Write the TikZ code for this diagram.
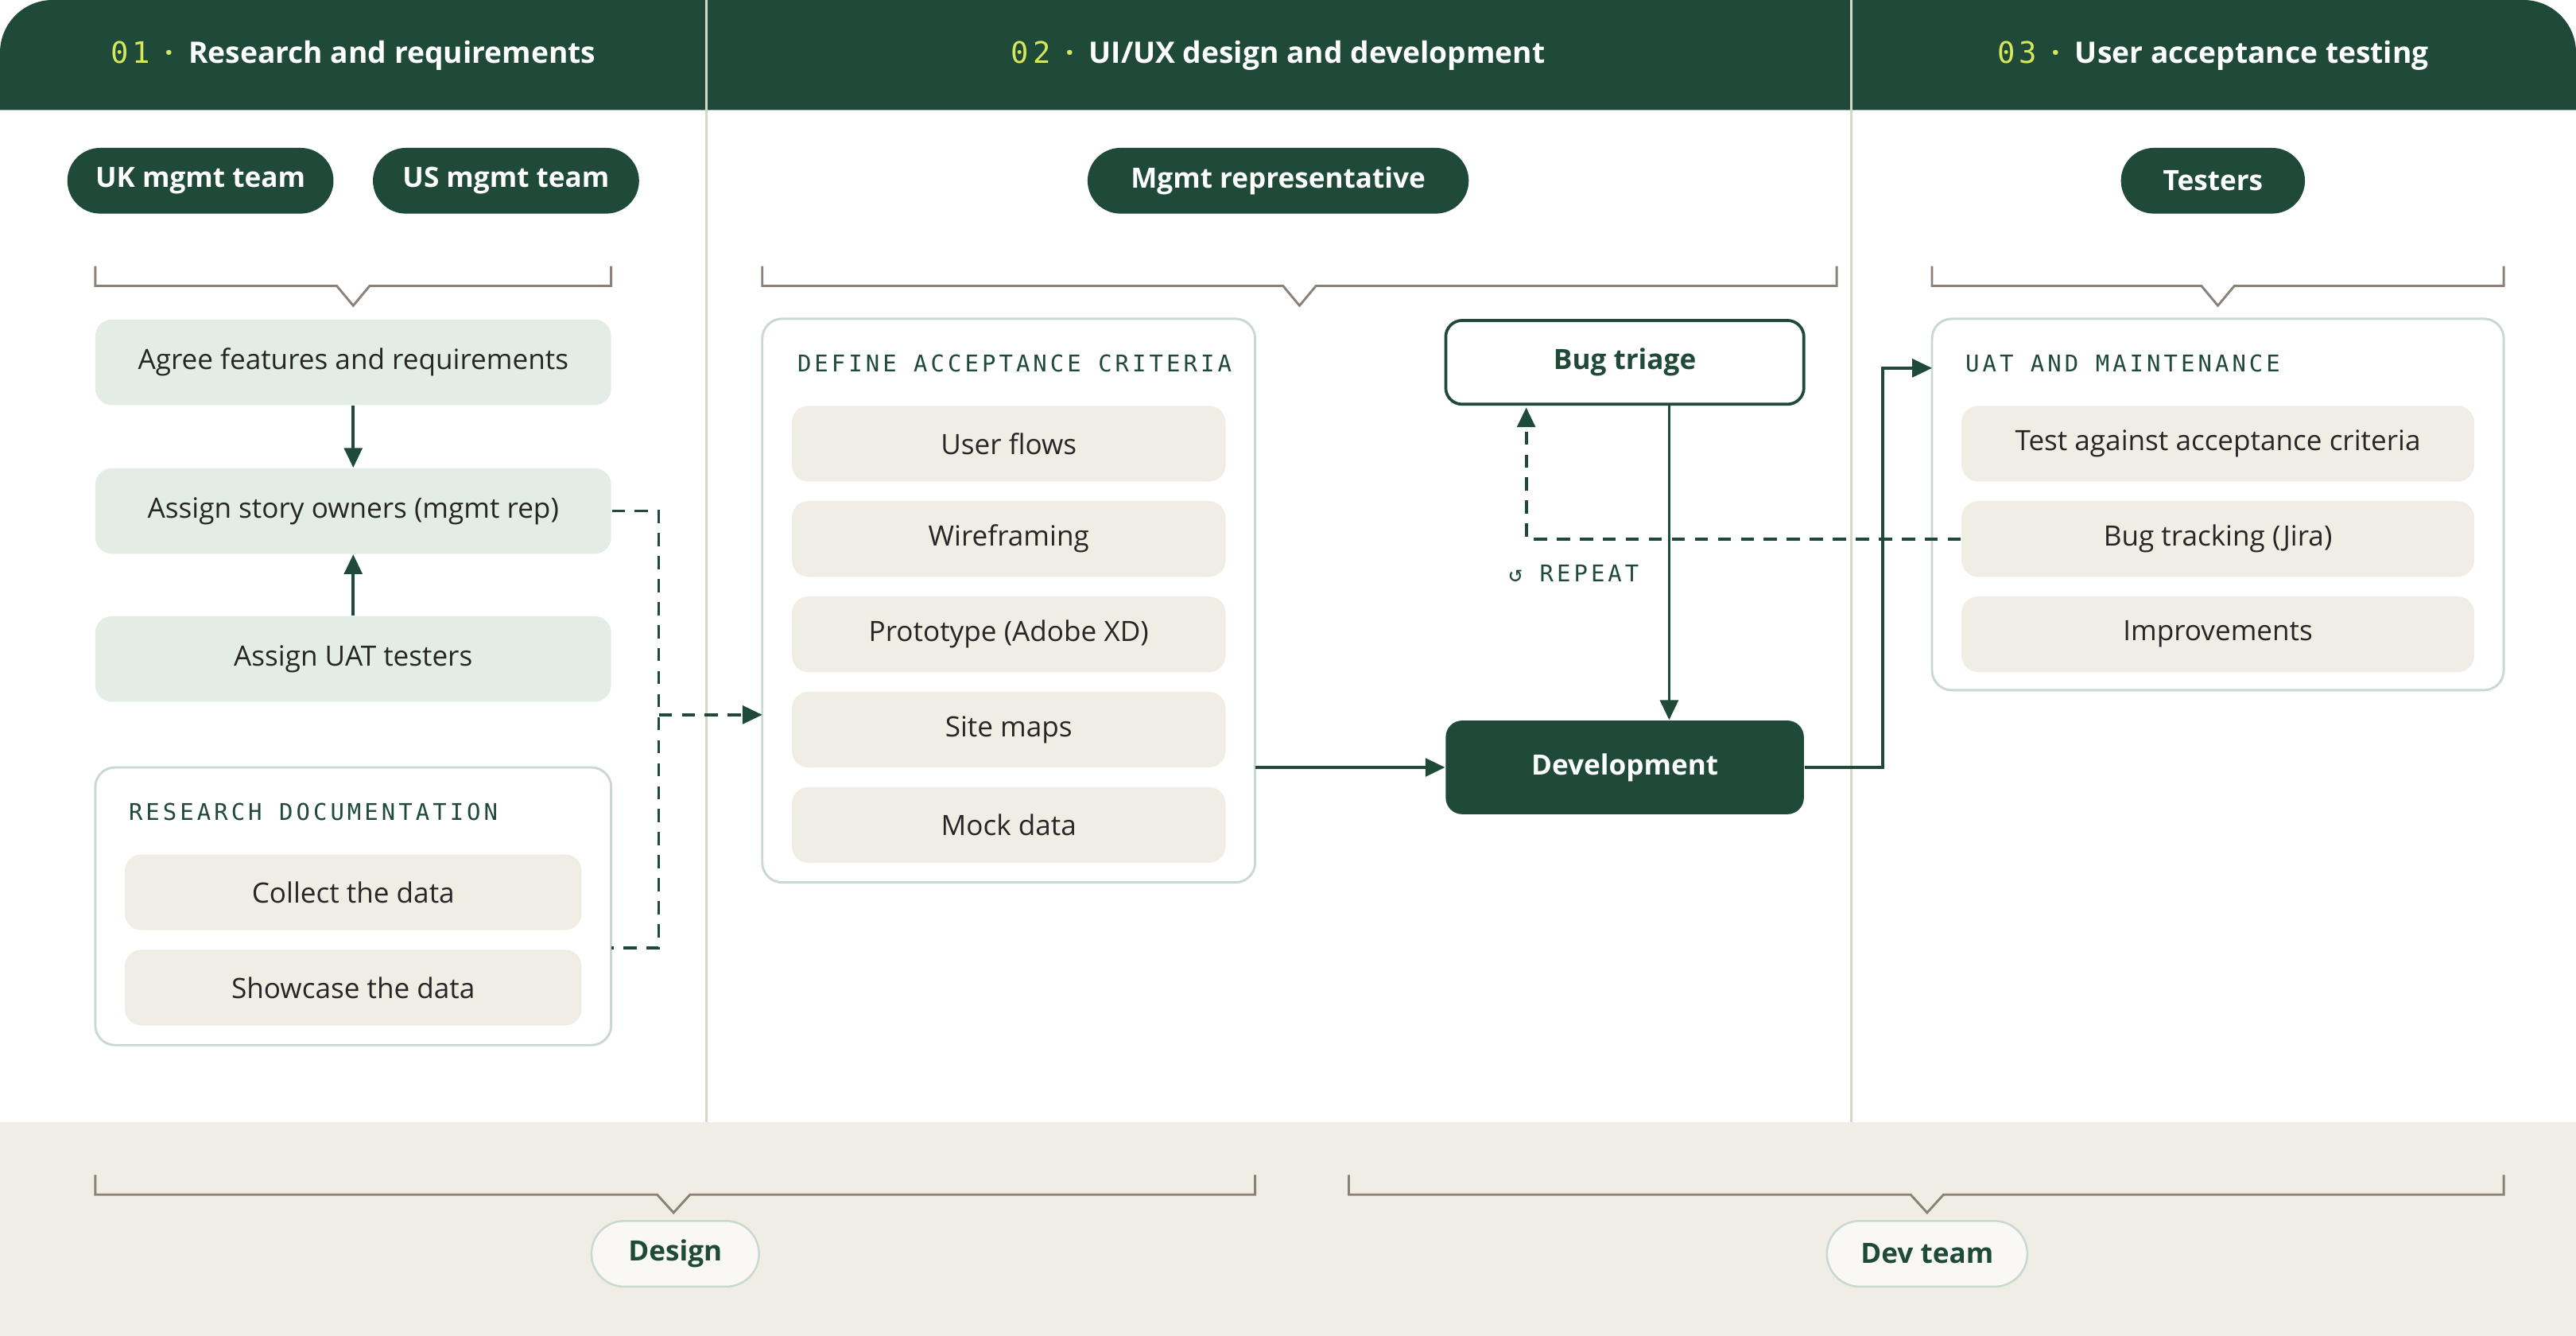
\documentclass[tikz,border=0pt]{standalone}
\usepackage{fontspec}
\setmainfont{Open Sans}
\newfontfamily\monofont[LetterSpace=14]{DejaVu Sans Mono}
\usetikzlibrary{arrows.meta}
\definecolor{forest}{HTML}{1F4A3A}
\definecolor{lime}{HTML}{D6E85A}
\definecolor{mint}{HTML}{E3EDE5}
\definecolor{sand}{HTML}{F0EDE5}
\definecolor{edge}{HTML}{C9D8D0}
\definecolor{brkt}{HTML}{8A8278}
\definecolor{rule}{HTML}{D9D6CE}
\tikzset{
  pill/.style={fill=forest, text=white, rounded corners=10pt, font=\fontsize{8.5}{10}\selectfont\bfseries, minimum height=20pt, inner sep=0pt},
  lowpill/.style={fill=white!60!sand, draw=edge, line width=0.6pt, text=forest, rounded corners=10pt, font=\fontsize{8.5}{10}\selectfont\bfseries, minimum height=20pt, inner sep=0pt},
  task/.style={fill=mint, rounded corners=5pt, minimum width=157pt, minimum height=26pt, font=\fontsize{8.5}{10}\selectfont, text=black!85, inner sep=0pt},
  item/.style={fill=sand, rounded corners=5pt, minimum height=23pt, font=\fontsize{8.5}{10}\selectfont, text=black!85, inner sep=0pt},
  group/.style={draw=edge, line width=0.7pt, fill=white, rounded corners=6pt},
  grouptitle/.style={anchor=west, font=\fontsize{7}{8}\selectfont\monofont, text=forest, inner sep=0pt},
  flow/.style={forest, line width=0.9pt, -{Triangle[length=6pt,width=5.5pt]}},
  loop/.style={forest, line width=0.9pt, dash pattern=on 4pt off 3pt},
  bracket/.style={brkt, line width=0.7pt},
  head/.style={text=white, font=\fontsize{9}{11}\selectfont\bfseries}
}
\newcommand{\phase}[2]{{\monofont\color{lime}\mdseries #1}\enspace{\color{lime}·}\enspace #2}
\begin{document}
\begin{tikzpicture}[x=0.5pt, y=-0.5pt]
\useasboundingbox (0,0) rectangle (1568,813);
% background bands
\fill[sand] (0,683) rectangle (1568,813);
\fill[forest] (0,67) [rounded corners=16pt] -- (0,0) -- (1568,0) [sharp corners] -- (1568,67) -- cycle;
\draw[rule, line width=0.7pt] (430,0) -- (430,683);
\draw[rule, line width=0.7pt] (1127,0) -- (1127,683);
\node[head] (h1) at (215,34) {\phase{01}{Research and requirements}};
\node[head] (h2) at (778,34) {\phase{02}{UI/UX design and development}};
\node[head] (h3) at (1347,34) {\phase{03}{User acceptance testing}};
% people
\node[pill, minimum width=81pt] (uk) at (122,110) {UK mgmt team};
\node[pill, minimum width=81pt] (us) at (308,110) {US mgmt team};
\node[pill, minimum width=116pt] (rep) at (778,110) {Mgmt representative};
\node[pill, minimum width=56pt] (testers) at (1347,110) {Testers};
% brackets
\draw[bracket] (58,162) -- (58,174) -- (205,174) -- (215,186) -- (225,174) -- (372,174) -- (372,162);
\draw[bracket] (464,162) -- (464,174) -- (781,174) -- (791,186) -- (801,174) -- (1118,174) -- (1118,162);
\draw[bracket] (1176,162) -- (1176,174) -- (1340,174) -- (1350,186) -- (1360,174) -- (1524,174) -- (1524,162);
\draw[bracket] (58,715) -- (58,727) -- (400,727) -- (410,738) -- (420,727) -- (764,727) -- (764,715);
\draw[bracket] (821,715) -- (821,727) -- (1163,727) -- (1173,738) -- (1183,727) -- (1524,727) -- (1524,715);
% phase 1
\node[task] (agree) at (215,220.5) {Agree features and requirements};
\node[task] (owners) at (215,311) {Assign story owners (mgmt rep)};
\node[task] (uat) at (215,401) {Assign UAT testers};
\draw[group] (58,467) rectangle (372,636);
\coordinate (docs) at (372,577);
\node[grouptitle] (doctitle) at (78,494) {RESEARCH DOCUMENTATION};
\node[item, minimum width=139pt] (collect) at (215,543) {Collect the data};
\node[item, minimum width=139pt] (show) at (215,601) {Showcase the data};
\draw[flow] (agree) -- (owners);
\draw[flow] (uat) -- (owners);
% phase 2
\draw[group] (464,194) rectangle (764,537);
\coordinate (dacin) at (464,435);
\coordinate (dacout) at (764,467);
\node[grouptitle] (dactitle) at (485,221) {DEFINE ACCEPTANCE CRITERIA};
\node[item, minimum width=132pt] (flows) at (614,270) {User flows};
\node[item, minimum width=132pt] (wire) at (614,328) {Wireframing};
\node[item, minimum width=132pt] (proto) at (614,386) {Prototype (Adobe XD)};
\node[item, minimum width=132pt] (maps) at (614,444) {Site maps};
\node[item, minimum width=132pt] (mock) at (614,502) {Mock data};
\node[draw=forest, line width=0.9pt, fill=white, rounded corners=5pt, minimum width=109pt, minimum height=25.5pt, text=forest, font=\fontsize{8.5}{10}\selectfont\bfseries, inner sep=0pt] (triage) at (989,220.5) {Bug triage};
\node[fill=forest, rounded corners=5pt, minimum width=109pt, minimum height=28.5pt, text=white, font=\fontsize{8.5}{10}\selectfont\bfseries, inner sep=0pt] (dev) at (989,467) {Development};
% phase 3
\draw[group] (1176,194) rectangle (1524,420);
\coordinate (uatin) at (1176,224);
\node[grouptitle] (uattitle) at (1196,221) {UAT AND MAINTENANCE};
\node[item, minimum width=156pt] (test) at (1350,270) {Test against acceptance criteria};
\node[item, minimum width=156pt] (track) at (1350,328) {Bug tracking (Jira)};
\node[item, minimum width=156pt] (improve) at (1350,386) {Improvements};
% connectors
\draw[loop] (owners.east) -- (401,311) -- (401,577) -- (docs);
\draw[loop, -{Triangle[length=6pt,width=5.5pt]}] (401,435) -- (dacin);
\draw[flow] (dacout) -- (dev.west);
\draw[flow] (1016,0 |- triage.south) -- (1016,0 |- dev.north);
\draw[flow] (dev.east) -- (1146,467) -- (1146,224) -- (uatin);
\draw[loop, -{Triangle[length=6pt,width=5.5pt]}] (track.west) -- (929,328) -- (929,248);
\node[anchor=west, font=\fontsize{7}{8}\selectfont\monofont, text=forest, inner sep=0pt] (repeat) at (918,349) {↺ REPEAT};
% teams
\node[lowpill, minimum width=51pt] (design) at (411,763) {Design};
\node[lowpill, minimum width=61pt] (devteam) at (1173,763) {Dev team};
\end{tikzpicture}
\end{document}
